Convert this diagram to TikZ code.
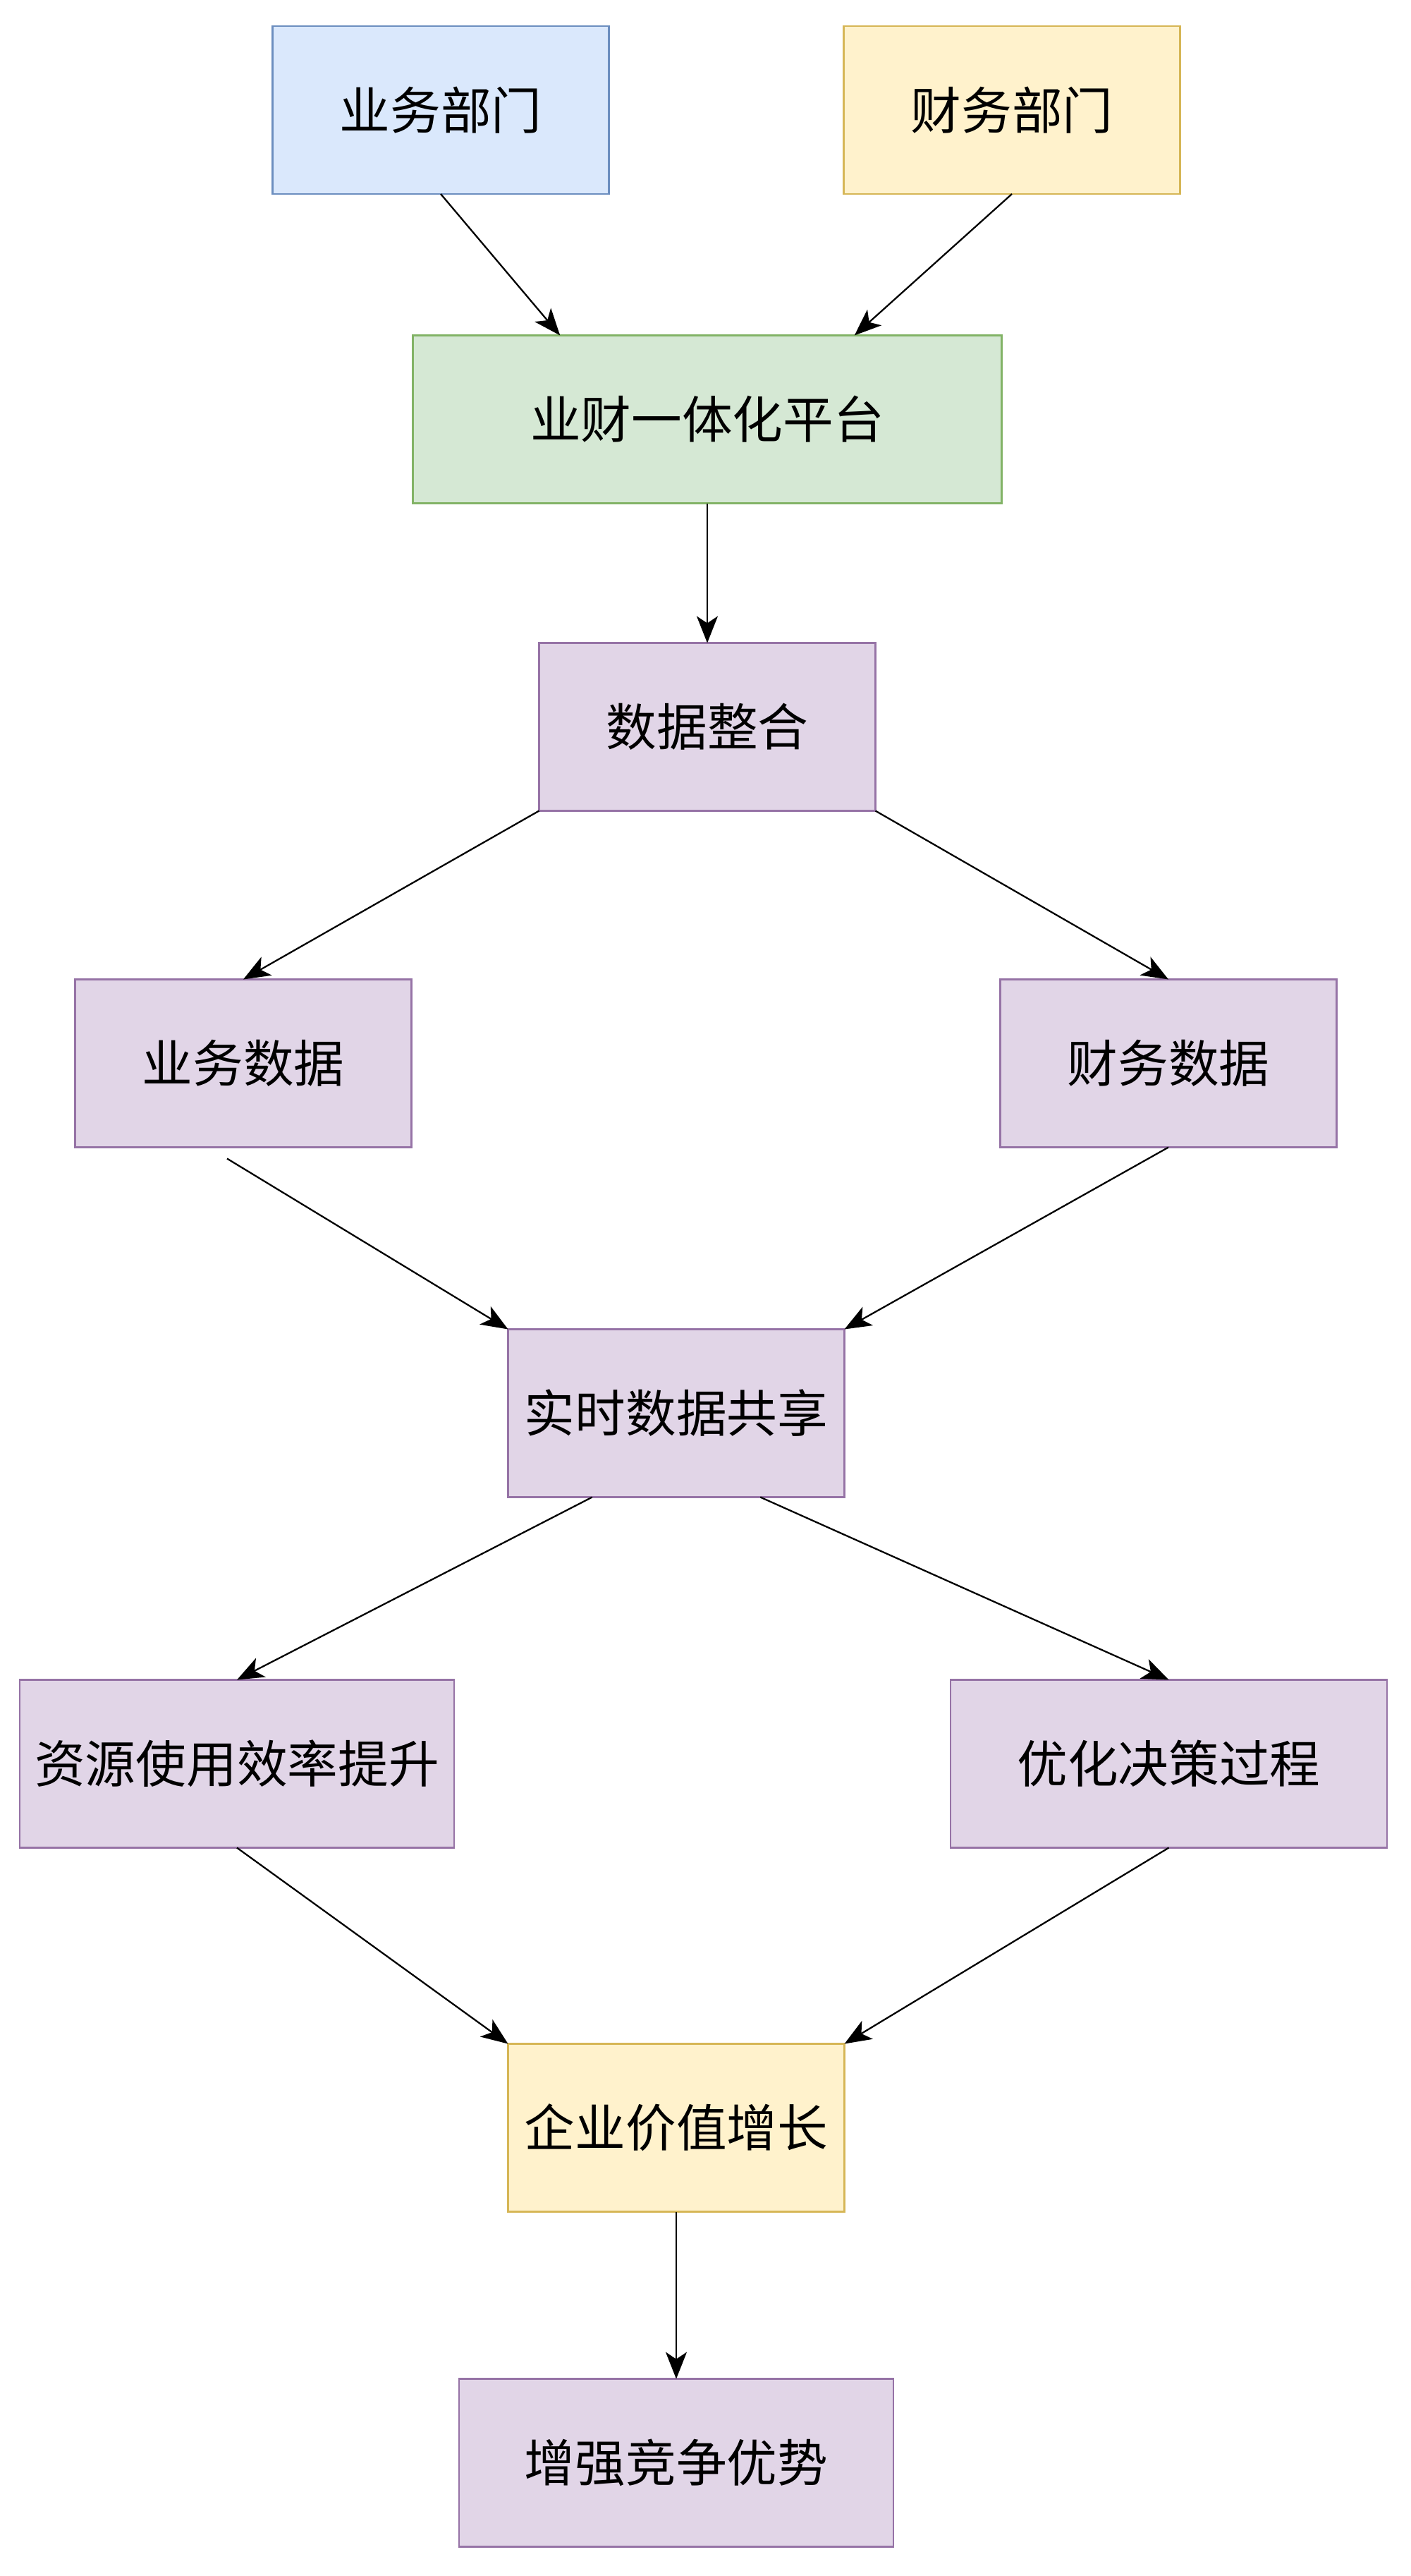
\documentclass[tikz,border=0pt]{standalone}
\usepackage{fontspec}
\newfontfamily\cjk{Noto Sans CJK SC}
\usetikzlibrary{positioning,calc,arrows.meta}

\definecolor{bluefill}{HTML}{DAE8FC}
\definecolor{bluedraw}{HTML}{6C8EBF}
\definecolor{yellowfill}{HTML}{FFF2CC}
\definecolor{yellowdraw}{HTML}{D6B656}
\definecolor{greenfill}{HTML}{D5E8D4}
\definecolor{greendraw}{HTML}{82B366}
\definecolor{purplefill}{HTML}{E1D5E7}
\definecolor{purpledraw}{HTML}{9673A6}

\begin{document}
\begin{tikzpicture}[-{Stealth[length=0.38cm,width=0.3cm,inset=0.1cm]},line width=0.65pt,
  main node/.style={rectangle,draw,line width=0.75pt,outer sep=0pt,minimum width=4.77cm,minimum height=2.38cm,inner sep=0pt,font=\cjk\fontsize{20.4}{24}\selectfont},
  blue node/.style={main node,fill=bluefill,draw=bluedraw},
  yellow node/.style={main node,fill=yellowfill,draw=yellowdraw},
  green node/.style={main node,fill=greenfill,draw=greendraw},
  purple node/.style={main node,fill=purplefill,draw=purpledraw}]

  \useasboundingbox (0,0) rectangle (20,-36.52);

  \node[blue node] (bizdept) at (6.25,-1.56) {业务部门};
  \node[yellow node] (findept) [right=3.33cm of bizdept] {财务部门};
  \node[green node,minimum width=8.35cm] (plat) [below=2.005cm of bizdept,xshift=3.78cm] {业财一体化平台};
  \node[purple node] (integ) [below=1.98cm of plat] {数据整合};
  \node[purple node] (bizdata) [below=2.39cm of integ,xshift=-6.58cm] {业务数据};
  \node[purple node] (findata) [right=8.35cm of bizdata] {财务数据};
  \node[purple node] (share) [below=2.58cm of bizdata,xshift=6.14cm] {实时数据共享};
  \node[purple node,minimum width=6.16cm] (resource) [below=2.59cm of share,xshift=-6.23cm] {资源使用效率提升};
  \node[purple node,minimum width=6.19cm] (decision) [right=7.04cm of resource] {优化决策过程};
  \node[yellow node] (value) [below=2.78cm of resource,xshift=6.23cm] {企业价值增长};
  \node[purple node,minimum width=6.16cm] (compete) [below=2.37cm of value] {增强竞争优势};

  \draw (bizdept.south) -- ($(plat.north west)!.25!(plat.north east)$);
  \draw (findept.south) -- ($(plat.north west)!.75!(plat.north east)$);
  \draw (plat) -- (integ);
  \draw (integ.south west) -- (bizdata.north);
  \draw (integ.south east) -- (findata.north);
  \draw ([xshift=-0.23cm,yshift=-0.16cm]bizdata.south) -- (share.north west);
  \draw (findata.south) -- (share.north east);
  \draw ($(share.south west)!.25!(share.south east)$) -- (resource.north);
  \draw ($(share.south west)!.75!(share.south east)$) -- (decision.north);
  \draw (resource.south) -- (value.north west);
  \draw (decision.south) -- (value.north east);
  \draw (value) -- (compete);
\end{tikzpicture}
\end{document}
